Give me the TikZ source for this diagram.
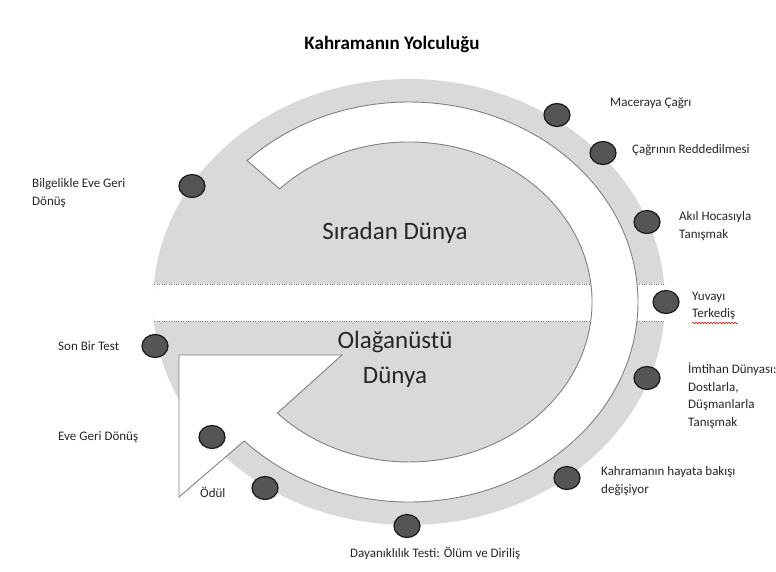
\documentclass[tikz,border=0pt]{standalone}
\usepackage{fontspec}
\setmainfont{Carlito}
\usetikzlibrary{shapes.geometric,decorations.pathmorphing}
\definecolor{ringgrey}{RGB}{217,217,217}
\definecolor{edgegrey}{RGB}{128,128,128}
\definecolor{stagegrey}{RGB}{85,85,85}
\tikzset{
  stage/.style={draw=black!90, line width=1.2pt, fill=stagegrey, ellipse, minimum width=26pt, minimum height=23pt, inner sep=0pt},
  stagetext/.style={anchor=west, align=left, inner sep=0pt},
  worldtext/.style={font=\fontsize{25}{35}\selectfont, align=center}
}
\begin{document}
\begin{tikzpicture}[x=1pt, y=-1pt, every node/.style={font=\fontsize{13}{17.5}\selectfont, text=black!85}]
    \useasboundingbox (0,0) rectangle (776,571);

    % Title
    \node[font=\fontsize{19}{22}\selectfont\bfseries, text=black] (title) at (392,44) {Kahramanın Yolculuğu};

    % Rings
    \fill[ringgrey] (409,302) ellipse [x radius=256, y radius=223];
    \begin{scope}
        \clip (409,302) ellipse [x radius=256, y radius=223];
        \fill[white] (140,284) rectangle (680,321);
        \draw[edgegrey, dotted] (140,284) -- (680,284);
        \draw[edgegrey, dotted] (140,321) -- (680,321);
    \end{scope}
    \draw[edgegrey, line width=0.9pt, fill=white]
        (409,302) ++(-135:229 and 200)
        arc[start angle=-135, end angle=136, x radius=229, y radius=200]
        -- (179,497) -- (179,355) -- (342,355) -- (277.4,413.1)
        arc[start angle=136, end angle=-135, x radius=183, y radius=160]
        -- cycle;

    % Worlds
    \node[worldtext] (ordinary) at (395,233) {Sıradan Dünya};
    \node[worldtext] (special) at (395,359) {Olağanüstü\\Dünya};

    % Stages
    \node[stage] (call) at (557,115) {};
    \node[stage] (refusal) at (603,153) {};
    \node[stage] (mentor) at (647,222) {};
    \node[stage] (home) at (666,302) {};
    \node[stage] (tests) at (647,378) {};
    \node[stage] (change) at (567,478) {};
    \node[stage] (ordeal) at (407,526) {};
    \node[stage] (reward) at (265,488) {};
    \node[stage] (road) at (212,437) {};
    \node[stage] (final) at (155,346) {};
    \node[stage] (elixir) at (192,186) {};

    % Labels
    \node[stagetext] (calltext) at (610,103) {Maceraya Çağrı};
    \node[stagetext] (refusaltext) at (632,150) {Çağrının Reddedilmesi};
    \node[stagetext] (mentortext) at (679,226) {Akıl Hocasıyla\\Tanışmak};
    \node[stagetext] (hometext) at (692,306) {Yuvayı\\Terkediş};
    \node[stagetext] (teststext) at (688,396) {İmtihan Dünyası:\\Dostlarla,\\Düşmanlarla\\Tanışmak};
    \node[stagetext] (changetext) at (601,481) {Kahramanın hayata bakışı\\değişiyor};
    \node[stagetext] (ordealtext) at (350,553) {Dayanıklılık Testi: Ölüm ve Diriliş};
    \node[stagetext] (rewardtext) at (200,492) {Ödül};
    \node[stagetext] (roadtext) at (58,437) {Eve Geri Dönüş};
    \node[stagetext] (finaltext) at (58,346) {Son Bir Test};
    \node[stagetext] (elixirtext) at (32,193) {Bilgelikle Eve Geri\\Dönüş};

    % Spelling mark
    \draw[red!85!black, line width=0.5pt, decorate, decoration={snake, amplitude=0.7pt, segment length=3pt}] (692,323) -- (738,323);
\end{tikzpicture}
\end{document}
